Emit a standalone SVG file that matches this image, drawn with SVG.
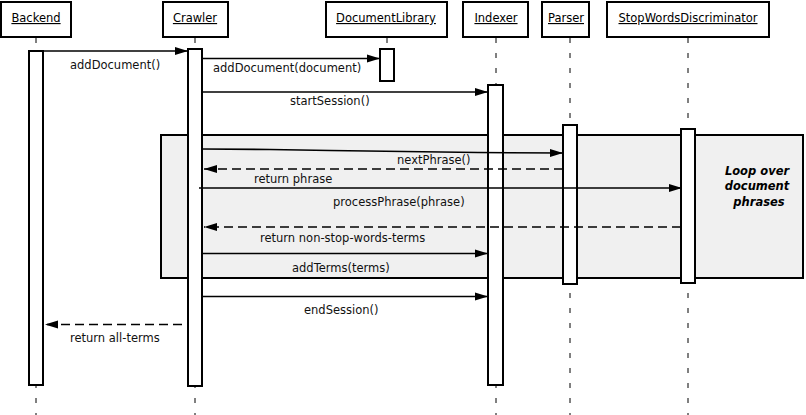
<svg xmlns="http://www.w3.org/2000/svg" width="806" height="415" viewBox="0 0 806 415">
<defs>
<style>
.hdr{fill:#fff;stroke:#000;stroke-width:2}
.ht{font-family:"DejaVu Sans",sans-serif;font-size:11.5px;fill:#000;text-anchor:middle;text-decoration:underline}
.life{stroke:#000;stroke-width:1;stroke-dasharray:5 10;fill:none}
.bar{fill:#fff;stroke:#000;stroke-width:2}
.msg{stroke:#000;stroke-width:1.6;fill:none;marker-end:url(#ah)}
.ret{stroke:#000;stroke-width:1.6;fill:none;stroke-dasharray:9 5;marker-end:url(#ah)}
.lbl{font-family:"DejaVu Sans",sans-serif;font-size:11.5px;fill:#111}
.loop{fill:#f0f0f0;stroke:#000;stroke-width:2}
.lt{font-family:"DejaVu Sans",sans-serif;font-size:11.5px;font-weight:bold;font-style:italic;fill:#000;text-anchor:middle}
</style>
<marker id="ah" markerUnits="userSpaceOnUse" markerWidth="14" markerHeight="10" refX="13" refY="4.5" orient="auto">
<path d="M0,0.5 L13,4.5 L0,8.5 Z" fill="#000"/>
</marker>
</defs>
<rect width="806" height="415" fill="#fff"/>
<g id="lifelines">
<line class="life" x1="36" y1="38" x2="36" y2="415"/>
<line class="life" x1="195" y1="38" x2="195" y2="415"/>
<line class="life" x1="387" y1="38" x2="387" y2="49"/>
<line class="life" x1="496" y1="38" x2="496" y2="415"/>
<line class="life" x1="570" y1="38" x2="570" y2="415"/>
<line class="life" x1="688" y1="38" x2="688" y2="415"/>
</g>
<g id="loop">
<rect class="loop" x="161" y="135" width="642" height="143"/>
<text class="lt" x="757" y="175">Loop over</text>
<text class="lt" x="757" y="190">document</text>
<text class="lt" x="759" y="206">phrases</text>
</g>
<g id="Backend">
<rect class="hdr" x="1" y="2" width="70" height="35"/>
<text class="ht" x="36" y="22">Backend</text>
<rect class="bar" x="29" y="51" width="14" height="334"/>
</g>
<g id="Crawler">
<rect class="hdr" x="163" y="2" width="65" height="35"/>
<text class="ht" x="195" y="22">Crawler</text>
<rect class="bar" x="188" y="49" width="14" height="337"/>
</g>
<g id="DocumentLibrary">
<rect class="hdr" x="326" y="2" width="121" height="35"/>
<text class="ht" x="386" y="22">DocumentLibrary</text>
<rect class="bar" x="380" y="49" width="14" height="32"/>
</g>
<g id="Indexer">
<rect class="hdr" x="463" y="2" width="65" height="35"/>
<text class="ht" x="496" y="22">Indexer</text>
<rect class="bar" x="488" y="85" width="15" height="300"/>
</g>
<g id="Parser">
<rect class="hdr" x="542" y="2" width="47" height="35"/>
<text class="ht" x="566" y="22">Parser</text>
<rect class="bar" x="563" y="125" width="14" height="159"/>
</g>
<g id="StopWordsDiscriminator">
<rect class="hdr" x="607" y="2" width="162" height="35"/>
<text class="ht" x="688" y="22">StopWordsDiscriminator</text>
<rect class="bar" x="681" y="129" width="14" height="154"/>
</g>
<g id="connectors">
<line class="msg" x1="43" y1="51" x2="188" y2="51"/>
<line class="msg" x1="202" y1="58.5" x2="380" y2="58.5"/>
<line class="msg" x1="202" y1="92" x2="488" y2="92"/>
<path class="msg" d="M202,149 L270,149.5 L330,150.5 L478,152.5 L563,153"/>
<line class="ret" x1="563" y1="169" x2="204" y2="169"/>
<line class="msg" x1="199" y1="188" x2="682" y2="188"/>
<line class="ret" x1="681" y1="227" x2="204" y2="227"/>
<line class="msg" x1="202" y1="253.5" x2="488" y2="253.5"/>
<line class="msg" x1="202" y1="296.5" x2="488" y2="296.5"/>
<line class="ret" x1="182" y1="324.5" x2="45" y2="324.5"/>
</g>
<g id="labels">
<text class="lbl" x="70" y="69">addDocument()</text>
<text class="lbl" x="213" y="72">addDocument(document)</text>
<text class="lbl" x="290" y="105">startSession()</text>
<text class="lbl" x="397" y="164">nextPhrase()</text>
<text class="lbl" x="254" y="183">return phrase</text>
<text class="lbl" x="333" y="206">processPhrase(phrase)</text>
<text class="lbl" x="260" y="242">return non-stop-words-terms</text>
<text class="lbl" x="292" y="272">addTerms(terms)</text>
<text class="lbl" x="304" y="314">endSession()</text>
<text class="lbl" x="70" y="342">return all-terms</text>
</g>
</svg>
